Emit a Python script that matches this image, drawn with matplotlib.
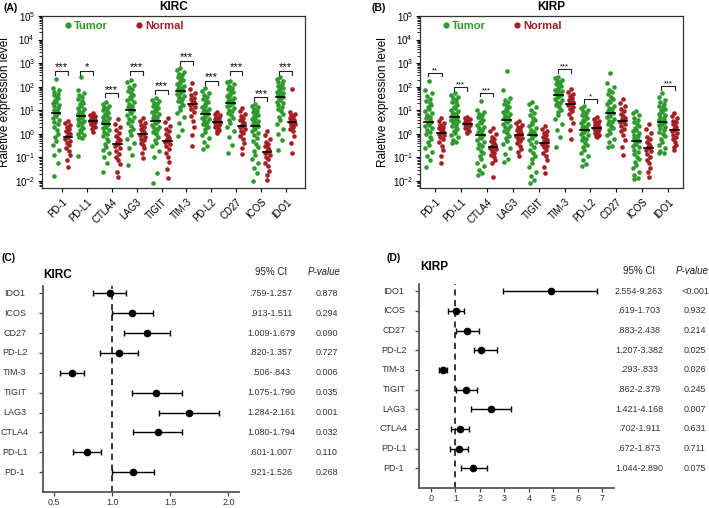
import numpy as np
import matplotlib
matplotlib.use("Agg")
import matplotlib.pyplot as plt
from matplotlib.lines import Line2D
from matplotlib import ticker, transforms

plt.rcParams['font.family'] = ['Liberation Sans', 'DejaVu Sans']
plt.rcParams['mathtext.default'] = 'regular'

GREEN = '#2e9a2e'
RED = '#a31f24'

genes = ["PD-1", "PD-L1", "CTLA4", "LAG3", "TIGIT", "TIM-3", "PD-L2", "CD27", "ICOS", "IDO1"]

# log10 relative expression (one list per gene)
kirc_tumor = [
    [2.31, 1.93, 1.85, 1.78, 1.70, 1.63, 1.57, 1.50, 1.44, 1.37, 1.30, 1.24, 1.17, 1.10, 1.03, 0.96, 0.90,
     0.84, 0.77, 0.69, 0.60, 0.50, 0.40, 0.28, 0.15, 0.01, -0.14, -0.30, -0.48, -0.68, -0.92, -1.25, -1.77],
    [2.40, 1.86, 1.74, 1.64, 1.55, 1.47, 1.39, 1.32, 1.25, 1.18, 1.11, 1.04, 0.97, 0.91, 0.86, 0.81, 0.77,
     0.72, 0.67, 0.62, 0.56, 0.50, 0.44, 0.38, 0.31, 0.24, 0.17, 0.09, 0.01, -0.07, -0.13, -0.19, -0.93],
    [1.37, 1.25, 1.18, 1.12, 1.06, 1.00, 0.94, 0.88, 0.83, 0.77, 0.71, 0.66, 0.60, 0.55, 0.50, 0.46, 0.42,
     0.37, 0.31, 0.24, 0.17, 0.09, 0.00, -0.10, -0.20, -0.31, -0.42, -0.54, -0.67, -0.82, -1.00, -1.25, -1.62],
    [2.28, 2.18, 2.08, 1.98, 1.89, 1.80, 1.72, 1.64, 1.57, 1.49, 1.42, 1.35, 1.28, 1.20, 1.13, 1.06, 1.01,
     0.95, 0.88, 0.80, 0.72, 0.63, 0.54, 0.44, 0.33, 0.22, 0.10, -0.04, -0.20, -0.38, -0.60, -0.90, -1.32],
    [1.51, 1.45, 1.38, 1.32, 1.26, 1.20, 1.14, 1.08, 1.02, 0.97, 0.91, 0.85, 0.79, 0.72, 0.66, 0.60, 0.55,
     0.50, 0.44, 0.38, 0.31, 0.24, 0.16, 0.08, -0.02, -0.13, -0.25, -0.38, -0.53, -0.72, -0.97, -1.68, -2.07],
    [2.78, 2.70, 2.62, 2.55, 2.48, 2.41, 2.35, 2.29, 2.23, 2.17, 2.11, 2.05, 2.00, 1.95, 1.91, 1.87, 1.83,
     1.78, 1.73, 1.67, 1.61, 1.55, 1.48, 1.41, 1.33, 1.24, 1.14, 1.02, 0.88, 0.70, 0.46, 0.16, -0.09],
    [1.93, 1.82, 1.72, 1.63, 1.55, 1.47, 1.40, 1.33, 1.26, 1.19, 1.13, 1.07, 1.01, 0.96, 0.91, 0.87, 0.83,
     0.78, 0.73, 0.68, 0.62, 0.56, 0.50, 0.43, 0.36, 0.28, 0.19, 0.09, -0.03, -0.17, -0.35, -0.52, -0.66],
    [2.24, 2.18, 2.10, 2.03, 1.96, 1.89, 1.83, 1.77, 1.71, 1.65, 1.59, 1.54, 1.48, 1.43, 1.39, 1.35, 1.32,
     1.27, 1.22, 1.16, 1.10, 1.03, 0.96, 0.88, 0.79, 0.69, 0.58, 0.45, 0.30, 0.12, -0.12, -0.47, -0.80],
    [1.27, 1.20, 1.12, 1.05, 0.98, 0.92, 0.86, 0.80, 0.74, 0.68, 0.62, 0.56, 0.50, 0.45, 0.40, 0.36, 0.33,
     0.27, 0.20, 0.12, 0.03, -0.07, -0.18, -0.30, -0.43, -0.57, -0.72, -0.88, -1.05, -1.25, -1.45, -1.68, -1.99],
    [2.40, 2.33, 2.25, 2.18, 2.11, 2.05, 1.99, 1.93, 1.87, 1.82, 1.77, 1.72, 1.67, 1.63, 1.60, 1.57, 1.55,
     1.50, 1.44, 1.37, 1.30, 1.22, 1.14, 1.05, 0.95, 0.84, 0.72, 0.58, 0.42, 0.22, -0.02, -0.26, -0.70],
]
kirc_normal = [
    [0.56, 0.45, 0.36, 0.28, 0.20, 0.12, 0.05, -0.02, -0.08, -0.15, -0.22, -0.30, -0.39, -0.49, -0.60, -0.73, -0.88, -1.10, -1.42],
    [0.87, 0.80, 0.75, 0.71, 0.67, 0.64, 0.61, 0.59, 0.57, 0.55, 0.53, 0.50, 0.47, 0.44, 0.40, 0.35, 0.28, 0.20, 0.09],
    [0.63, 0.42, 0.28, 0.15, 0.04, -0.08, -0.18, -0.28, -0.36, -0.44, -0.52, -0.62, -0.73, -0.85, -0.98, -1.12, -1.30, -1.62, -1.82],
    [0.66, 0.56, 0.47, 0.38, 0.30, 0.22, 0.14, 0.08, 0.03, -0.02, -0.07, -0.13, -0.20, -0.28, -0.37, -0.48, -0.62, -0.80, -1.04],
    [0.69, 0.50, 0.35, 0.22, 0.10, -0.01, -0.10, -0.18, -0.24, -0.29, -0.35, -0.43, -0.53, -0.65, -0.80, -0.98, -1.20, -1.50, -1.89],
    [2.14, 1.90, 1.75, 1.63, 1.54, 1.46, 1.40, 1.35, 1.31, 1.27, 1.22, 1.14, 1.04, 0.92, 0.76, 0.55, 0.28, -0.05, -0.52],
    [0.94, 0.85, 0.78, 0.72, 0.66, 0.61, 0.57, 0.54, 0.51, 0.49, 0.47, 0.44, 0.40, 0.36, 0.31, 0.25, 0.18, 0.10, 0.02],
    [1.11, 0.98, 0.86, 0.75, 0.66, 0.58, 0.50, 0.44, 0.38, 0.33, 0.27, 0.20, 0.12, 0.03, -0.08, -0.22, -0.40, -0.60, -0.86],
    [0.14, -0.05, -0.20, -0.33, -0.44, -0.53, -0.61, -0.67, -0.72, -0.76, -0.81, -0.88, -0.97, -1.08, -1.22, -1.38, -1.56, -1.76, -1.96],
    [1.89, 0.94, 0.86, 0.80, 0.74, 0.68, 0.63, 0.58, 0.55, 0.52, 0.48, 0.43, 0.37, 0.30, 0.21, 0.10, -0.08, -0.40, -0.83],
]
kirc_sig = ["***", "*", "***", "***", "***", "***", "***", "***", "***", "***"]
kirc_bracket = [2.67, 2.67, 1.72, 2.67, 1.86, 3.09, 2.24, 2.67, 1.55, 2.67]

kirp_tumor = [
    [2.24, 1.86, 1.72, 1.60, 1.49, 1.39, 1.30, 1.21, 1.13, 1.05, 0.97, 0.89, 0.81, 0.73, 0.65, 0.58, 0.52,
     0.46, 0.39, 0.32, 0.24, 0.16, 0.07, -0.02, -0.12, -0.23, -0.35, -0.48, -0.62, -0.78, -0.95, -1.11, -1.39],
    [1.72, 1.65, 1.57, 1.50, 1.43, 1.36, 1.29, 1.22, 1.15, 1.08, 1.02, 0.96, 0.90, 0.85, 0.80, 0.76, 0.73,
     0.69, 0.64, 0.59, 0.54, 0.48, 0.42, 0.35, 0.28, 0.21, 0.13, 0.05, -0.04, -0.14, -0.25, -0.33, -0.37],
    [1.41, 1.01, 0.94, 0.86, 0.79, 0.72, 0.65, 0.58, 0.51, 0.44, 0.37, 0.30, 0.23, 0.16, 0.09, 0.02, -0.05,
     -0.12, -0.19, -0.27, -0.35, -0.43, -0.52, -0.62, -0.72, -0.83, -0.95, -1.08, -1.22, -1.38, -1.55, -1.68, -1.75],
    [2.68, 1.86, 1.51, 1.42, 1.34, 1.26, 1.19, 1.12, 1.05, 0.98, 0.91, 0.84, 0.78, 0.72, 0.67, 0.63, 0.59,
     0.54, 0.48, 0.42, 0.35, 0.28, 0.20, 0.11, 0.02, -0.08, -0.19, -0.31, -0.45, -0.62, -0.85, -1.05, -1.18],
    [1.37, 1.25, 1.12, 1.00, 0.89, 0.78, 0.68, 0.58, 0.49, 0.40, 0.32, 0.24, 0.16, 0.09, 0.03, -0.01, -0.05,
     -0.10, -0.17, -0.25, -0.34, -0.44, -0.55, -0.67, -0.80, -0.94, -1.09, -1.25, -1.42, -1.60, -1.80, -1.95, -2.07],
    [2.40, 2.36, 2.30, 2.24, 2.18, 2.12, 2.06, 2.01, 1.96, 1.91, 1.86, 1.81, 1.77, 1.73, 1.70, 1.67, 1.65,
     1.60, 1.55, 1.49, 1.43, 1.36, 1.29, 1.21, 1.12, 1.02, 0.91, 0.78, 0.62, 0.42, 0.15, -0.15, -0.54],
    [1.18, 1.10, 1.02, 0.95, 0.88, 0.81, 0.74, 0.67, 0.60, 0.53, 0.47, 0.41, 0.35, 0.29, 0.24, 0.20, 0.16,
     0.11, 0.06, 0.00, -0.06, -0.13, -0.20, -0.28, -0.37, -0.46, -0.56, -0.67, -0.80, -0.95, -1.12, -1.28, -1.36],
    [2.57, 2.14, 2.00, 1.88, 1.77, 1.67, 1.58, 1.49, 1.41, 1.33, 1.25, 1.18, 1.11, 1.04, 0.97, 0.91, 0.87,
     0.82, 0.76, 0.70, 0.63, 0.56, 0.49, 0.41, 0.33, 0.24, 0.15, 0.05, -0.07, -0.20, -0.36, -0.52, -0.57],
    [0.98, 0.88, 0.78, 0.68, 0.59, 0.50, 0.42, 0.34, 0.26, 0.18, 0.11, 0.04, -0.03, -0.10, -0.17, -0.23, -0.29,
     -0.35, -0.42, -0.50, -0.58, -0.67, -0.76, -0.86, -0.97, -1.08, -1.20, -1.33, -1.47, -1.62, -1.76, -1.87, -1.93],
    [1.72, 1.55, 1.44, 1.36, 1.28, 1.20, 1.13, 1.06, 0.99, 0.92, 0.85, 0.78, 0.72, 0.66, 0.60, 0.56, 0.52,
     0.47, 0.42, 0.36, 0.30, 0.23, 0.16, 0.08, -0.01, -0.11, -0.22, -0.34, -0.47, -0.60, -0.72, -0.80, -0.83],
]
kirp_normal = [
    [0.66, 0.55, 0.46, 0.38, 0.31, 0.24, 0.18, 0.13, 0.09, 0.05, 0.00, -0.06, -0.14, -0.24, -0.36, -0.50, -0.68, -0.94, -1.22],
    [0.73, 0.68, 0.63, 0.59, 0.55, 0.52, 0.49, 0.46, 0.44, 0.42, 0.40, 0.37, 0.34, 0.30, 0.25, 0.19, 0.13, 0.07, 0.02],
    [0.23, 0.10, -0.02, -0.13, -0.23, -0.32, -0.40, -0.46, -0.50, -0.54, -0.59, -0.65, -0.72, -0.80, -0.89, -1.00, -1.12, -1.25, -1.82],
    [0.55, 0.46, 0.38, 0.30, 0.23, 0.16, 0.10, 0.04, 0.00, -0.05, -0.10, -0.16, -0.23, -0.31, -0.40, -0.51, -0.64, -0.79, -0.94],
    [0.33, 0.22, 0.12, 0.03, -0.05, -0.13, -0.20, -0.26, -0.32, -0.37, -0.43, -0.50, -0.58, -0.68, -0.80, -0.94, -1.12, -1.40, -1.65],
    [1.89, 1.78, 1.68, 1.59, 1.51, 1.44, 1.38, 1.33, 1.30, 1.27, 1.22, 1.15, 1.06, 0.95, 0.82, 0.66, 0.46, 0.15, -0.23],
    [0.70, 0.62, 0.55, 0.49, 0.44, 0.39, 0.35, 0.31, 0.28, 0.26, 0.23, 0.19, 0.15, 0.10, 0.05, -0.01, -0.06, -0.11, -0.15],
    [1.46, 1.30, 1.17, 1.05, 0.95, 0.86, 0.77, 0.69, 0.62, 0.56, 0.50, 0.42, 0.33, 0.22, 0.10, -0.05, -0.25, -0.55, -0.90],
    [0.42, 0.20, 0.02, -0.12, -0.24, -0.35, -0.44, -0.51, -0.57, -0.61, -0.67, -0.75, -0.85, -0.97, -1.10, -1.26, -1.44, -1.64, -1.82],
    [0.87, 0.75, 0.65, 0.56, 0.48, 0.41, 0.34, 0.27, 0.21, 0.16, 0.10, 0.03, -0.05, -0.14, -0.24, -0.35, -0.46, -0.58, -0.69],
]
kirp_sig = ["**", "***", "***", "", "", "***", "*", "", "", "***"]
kirp_bracket = [2.60, 1.97, 1.75, 0, 0, 2.74, 1.47, 0, 0, 2.03]

# hazard ratios (bottom row first), as drawn in the forest plots
kirc_hr = [1.18, 0.78, 1.39, 1.66, 1.38, 0.65, 1.06, 1.30, 1.17, 0.98]
kirc_lo = [1.00, 0.66, 1.18, 1.40, 1.17, 0.55, 0.89, 1.10, 1.00, 0.83]
kirc_hi = [1.36, 0.90, 1.60, 1.92, 1.60, 0.76, 1.22, 1.50, 1.35, 1.12]
kirc_ci = [".921-1.526", ".601-1.007", "1.080-1.794", "1.284-2.161", "1.075-1.790",
           ".506-.843", ".820-1.357", "1.009-1.679", ".913-1.511", ".759-1.257"]
kirc_p = ["0.268", "0.110", "0.032", "0.001", "0.035", "0.006", "0.727", "0.090", "0.294", "0.878"]

kirp_hr = [1.73, 1.13, 1.17, 2.44, 1.43, 0.49, 2.03, 1.48, 1.01, 4.89]
kirp_lo = [1.23, 0.76, 0.80, 1.63, 1.01, 0.33, 1.77, 1.01, 0.71, 2.96]
kirp_hi = [2.30, 1.50, 1.54, 3.26, 1.89, 0.65, 2.68, 1.96, 1.36, 6.80]
kirp_ci = ["1.044-2.890", ".672-1.873", ".702-1.911", "1.421-4.168", ".862-2.379",
           ".293-.833", "1.207-3.382", ".883-2.438", ".619-1.703", "2.554-9.263"]
kirp_p = ["0.075", "0.711", "0.631", "0.007", "0.245", "0.026", "0.025", "0.214", "0.932", "<0.001"]

W, H = 709, 508
fig = plt.figure(figsize=(W / 100, H / 100), dpi=100)


def box(l, t, r, b):
    return [l / W, 1 - b / H, (r - l) / W, (b - t) / H]


# fixed horizontal spread pattern so the strips look like dot columns
spread = np.array([0, -1, 1, -0.5, 0.5, -0.75, 0.25, 0.75, -0.25])


def strip_panel(ax, tumor, normal, sig, bracket, xlim, title, star_size):
    for i in range(len(genes)):
        for vals, dx, col, w in ((tumor[i], -0.24, GREEN, 0.13), (normal[i], 0.24, RED, 0.10)):
            y = 10 ** np.array(vals)
            xs = i + dx + w * np.resize(spread, len(y))
            ax.scatter(xs, y, s=11, color=col, lw=0, zorder=2)
            med = np.median(y)
            ax.plot([i + dx - 0.17, i + dx + 0.17], [med, med], color='black', lw=1.2, zorder=3)
        if sig[i]:
            yb = 10 ** bracket[i]
            x0, x1 = i - 0.27, i + 0.25
            ax.plot([x0, x0, x1, x1], [yb / 1.45, yb, yb, yb / 1.45], color='#222222', lw=0.8)
            ax.text(i - 0.01, yb * 1.06, sig[i], ha='center', va='baseline', fontsize=star_size)
    ax.set_yscale('log')
    ax.set_ylim(10 ** -2.3, 1e5)
    ax.set_xlim(*xlim)
    ax.yaxis.set_major_locator(ticker.LogLocator(base=10, numticks=20))
    ax.yaxis.set_minor_locator(ticker.LogLocator(base=10, subs=np.arange(2, 10), numticks=20))
    ax.yaxis.set_minor_formatter(ticker.NullFormatter())
    ax.set_yticks([10.0 ** k for k in range(-2, 6)])
    ax.set_xticks(range(len(genes)))
    ax.set_xticklabels(genes, rotation=45, ha='right', rotation_mode='anchor', fontsize=7)
    ax.tick_params(axis='y', labelsize=7, length=3, width=0.8, pad=2)
    ax.tick_params(axis='y', which='minor', length=2, width=0.6)
    ax.tick_params(axis='x', length=3, width=0.8)
    ax.set_ylabel("Raletive expression level", fontsize=8.5)
    ax.yaxis.set_label_coords(-0.118, 0.5)
    ax.set_title(title, fontsize=8.5, fontweight='bold', pad=4)
    for s in ax.spines.values():
        s.set_linewidth(0.9)
        s.set_color('#333333')
    handles = [Line2D([], [], marker='o', ls='none', color=GREEN, ms=3.5),
               Line2D([], [], marker='o', ls='none', color=RED, ms=3.5)]
    ax.legend(handles, ["Tumor", "Normal"], ncol=2, loc='center left', bbox_to_anchor=(0.07, 0.94),
              frameon=False, prop={'weight': 'bold', 'size': 8}, labelcolor=[GREEN, RED],
              handlelength=0.5, handletextpad=0.3, columnspacing=2.6, borderaxespad=0)


def forest_panel(ax, hr, lo, hi, ci, pv, xlim, xticks, xfmt, label_x, ci_x, p_x, head_y):
    rows = np.arange(1, len(genes) + 1)
    hr, lo, hi = np.array(hr), np.array(lo), np.array(hi)
    ax.axvline(1, color='black', ls=(0, (4, 3)), lw=1.1, zorder=1)
    ax.errorbar(hr, rows, xerr=[hr - lo, hi - hr], fmt='o', color='black', ms=4.5,
                capsize=2.2, elinewidth=1.0, capthick=1.0, zorder=3)
    ax.set_xlim(*xlim)
    ax.set_ylim(0, 10.37)
    ax.set_xticks(xticks)
    ax.xaxis.set_major_formatter(ticker.FormatStrFormatter(xfmt))
    ax.set_yticks(rows)
    ax.set_yticklabels([])
    ax.tick_params(axis='both', length=3, width=0.9, color='#444444', labelsize=6.5, labelcolor='#333333')
    ax.tick_params(axis='x', pad=1.5)
    for s in ('top', 'right'):
        ax.spines[s].set_visible(False)
    for s in ('left', 'bottom'):
        ax.spines[s].set_linewidth(1.3)
        ax.spines[s].set_color('#555555')
    tr = transforms.blended_transform_factory(fig.transFigure, ax.transData)
    for r, g, c, p in zip(rows, genes, ci, pv):
        ax.text(label_x / W, r, g, transform=tr, ha='center', va='center', fontsize=6.5, color='#333333')
        ax.text(ci_x / W, r, c, transform=tr, ha='center', va='center', fontsize=6.5, color='#333333')
        ax.text(p_x / W, r, p, transform=tr, ha='center', va='center', fontsize=6.5, color='#333333')
    fig.text(ci_x / W, 1 - head_y / H, "95% CI", ha='center', va='center', fontsize=7, color='#222222')
    fig.text((p_x - 3) / W, 1 - head_y / H, "P-value", ha='center', va='center', fontsize=7,
             style='italic', color='#222222')


axA = fig.add_axes(box(42, 16, 305, 188))
strip_panel(axA, kirc_tumor, kirc_normal, kirc_sig, kirc_bracket, (-0.8, 9.76), "KIRC", 8)
axB = fig.add_axes(box(420, 16, 683, 188))
strip_panel(axB, kirp_tumor, kirp_normal, kirp_sig, kirp_bracket, (-0.58, 9.57), "KIRP", 5.5)

axC = fig.add_axes(box(43, 286, 239, 492))
forest_panel(axC, kirc_hr, kirc_lo, kirc_hi, kirc_ci, kirc_p, (0.403, 2.092), [0.5, 1.0, 1.5, 2.0], '%.1f',
             15, 271, 327, 272)
axD = fig.add_axes(box(419, 284, 614, 488))
forest_panel(axD, kirp_hr, kirp_lo, kirp_hi, kirp_ci, kirp_p, (-0.49, 7.48), list(range(8)), '%d',
             394, 639, 695, 271)

fig.text(3 / W, 1 - 8 / H, "(A)", fontsize=7.5, fontweight='bold', va='center', ha='left')
fig.text(372 / W, 1 - 8 / H, "(B)", fontsize=7.5, fontweight='bold', va='center', ha='left')
fig.text(2 / W, 1 - 258 / H, "(C)", fontsize=7.5, fontweight='bold', va='center', ha='left')
fig.text(386 / W, 1 - 258 / H, "(D)", fontsize=7.5, fontweight='bold', va='center', ha='left')
fig.text(43 / W, 1 - 275 / H, "KIRC", fontsize=8.5, fontweight='bold', va='center', ha='left')
fig.text(420 / W, 1 - 267 / H, "KIRP", fontsize=8.5, fontweight='bold', va='center', ha='left')

fig.savefig("out.png", dpi=100)
